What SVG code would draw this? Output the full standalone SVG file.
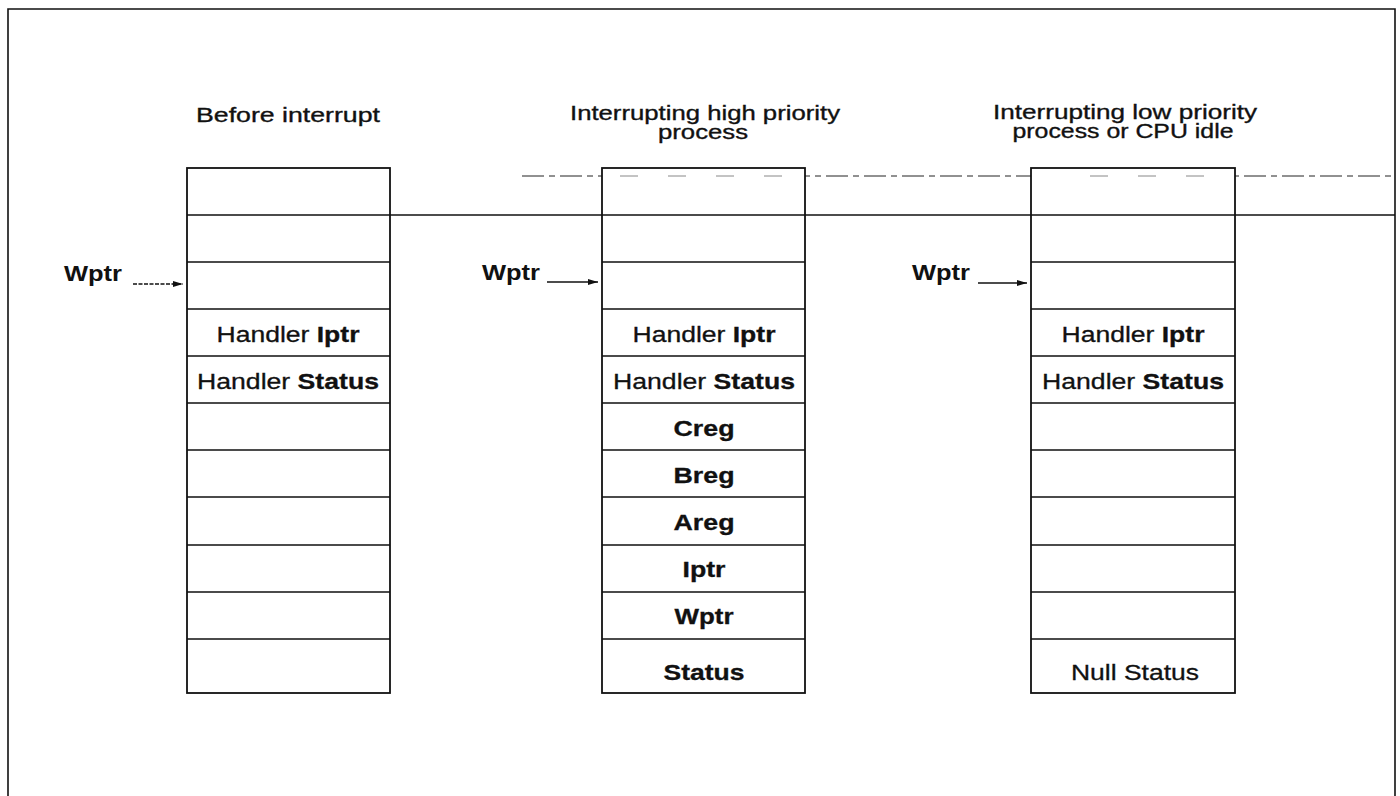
<svg xmlns="http://www.w3.org/2000/svg" width="1400" height="796" viewBox="0 0 1400 796">
<defs>
<style>
.frame{fill:none;stroke:#111;stroke-width:1.6}
.box{fill:#fff;stroke:#111;stroke-width:1.8}
.row{stroke:#111;stroke-width:1.3}
.title{font-family:"Liberation Sans",Arial,sans-serif;font-size:20.5px;fill:#111;stroke:#111;stroke-width:0.35;text-anchor:middle}
.cell{font-family:"Liberation Sans",Arial,sans-serif;font-size:22px;fill:#111;stroke:#111;stroke-width:0.3;text-anchor:middle}
.b{font-weight:bold}
.lbl{font-family:"Liberation Sans",Arial,sans-serif;font-size:22px;font-weight:bold;fill:#111}
.arr{stroke:#111;stroke-width:1.3;fill:none}
.dash{stroke:#222;stroke-width:1;stroke-dasharray:22 5 6 5;fill:none}
.faint{stroke:#888;stroke-width:1;stroke-dasharray:18 30;fill:none}
</style>
<marker id="ah" markerWidth="11" markerHeight="7" refX="10" refY="3.5" orient="auto" markerUnits="userSpaceOnUse">
<path d="M0,0.5 L10,3.5 L0,6.5 Z" fill="#111"/>
</marker>
</defs>
<rect width="1400" height="796" fill="#fff"/>
<path class="frame" d="M8,796 V9 H1395 V796"/>
<g id="titles">
<text class="title" x="288" y="122" textLength="184" lengthAdjust="spacingAndGlyphs">Before interrupt</text>
<text class="title" x="705" y="120" textLength="270" lengthAdjust="spacingAndGlyphs">Interrupting high priority</text>
<text class="title" x="703" y="139" textLength="90" lengthAdjust="spacingAndGlyphs">process</text>
<text class="title" x="1125" y="119" textLength="264" lengthAdjust="spacingAndGlyphs">Interrupting low priority</text>
<text class="title" x="1123" y="138" textLength="221" lengthAdjust="spacingAndGlyphs">process or CPU idle</text>
</g>
<g id="guides">
<line class="dash" x1="522" y1="176" x2="1395" y2="176"/>
<line class="row" x1="390" y1="215" x2="1395" y2="215"/>
</g>
<g id="stack1">
<rect class="box" x="187" y="168" width="203" height="525"/>
<path class="row" d="M187,215H390M187,262H390M187,309H390M187,356H390M187,403H390M187,450H390M187,497H390M187,545H390M187,592H390M187,639H390"/>
<text class="cell" x="288" y="342" textLength="143" lengthAdjust="spacingAndGlyphs">Handler <tspan class="b">Iptr</tspan></text>
<text class="cell" x="288" y="389" textLength="182" lengthAdjust="spacingAndGlyphs">Handler <tspan class="b">Status</tspan></text>
</g>
<g id="stack2">
<rect class="box" x="602" y="168" width="203" height="525"/>
<line class="faint" x1="620" y1="176" x2="790" y2="176"/>
<path class="row" d="M602,215H805M602,262H805M602,309H805M602,356H805M602,403H805M602,450H805M602,497H805M602,545H805M602,592H805M602,639H805"/>
<text class="cell" x="704" y="342" textLength="143" lengthAdjust="spacingAndGlyphs">Handler <tspan class="b">Iptr</tspan></text>
<text class="cell" x="704" y="389" textLength="182" lengthAdjust="spacingAndGlyphs">Handler <tspan class="b">Status</tspan></text>
<text class="cell b" x="704" y="436" textLength="61" lengthAdjust="spacingAndGlyphs">Creg</text>
<text class="cell b" x="704" y="483" textLength="61" lengthAdjust="spacingAndGlyphs">Breg</text>
<text class="cell b" x="704" y="530" textLength="61" lengthAdjust="spacingAndGlyphs">Areg</text>
<text class="cell b" x="704" y="577" textLength="43" lengthAdjust="spacingAndGlyphs">Iptr</text>
<text class="cell b" x="704" y="624" textLength="59" lengthAdjust="spacingAndGlyphs">Wptr</text>
<text class="cell b" x="704" y="680" textLength="81" lengthAdjust="spacingAndGlyphs">Status</text>
</g>
<g id="stack3">
<rect class="box" x="1031" y="168" width="204" height="525"/>
<line class="faint" x1="1090" y1="176" x2="1220" y2="176" stroke-dasharray="10 14"/>
<path class="row" d="M1031,215H1235M1031,262H1235M1031,309H1235M1031,356H1235M1031,403H1235M1031,450H1235M1031,497H1235M1031,545H1235M1031,592H1235M1031,639H1235"/>
<text class="cell" x="1133" y="342" textLength="143" lengthAdjust="spacingAndGlyphs">Handler <tspan class="b">Iptr</tspan></text>
<text class="cell" x="1133" y="389" textLength="182" lengthAdjust="spacingAndGlyphs">Handler <tspan class="b">Status</tspan></text>
<text class="cell" x="1135" y="680" textLength="128" lengthAdjust="spacingAndGlyphs">Null Status</text>
</g>
<g id="wptr-labels">
<text class="lbl" x="64" y="281" textLength="58" lengthAdjust="spacingAndGlyphs">Wptr</text>
<text class="lbl" x="482" y="280" textLength="58" lengthAdjust="spacingAndGlyphs">Wptr</text>
<text class="lbl" x="912" y="280" textLength="58" lengthAdjust="spacingAndGlyphs">Wptr</text>
</g>
<g id="connectors">
<line class="arr" x1="133" y1="284" x2="183" y2="284" stroke-dasharray="4 1.5" marker-end="url(#ah)"/>
<line class="arr" x1="547" y1="282" x2="598" y2="282" marker-end="url(#ah)"/>
<line class="arr" x1="978" y1="283" x2="1027" y2="283" marker-end="url(#ah)"/>
</g>
</svg>
